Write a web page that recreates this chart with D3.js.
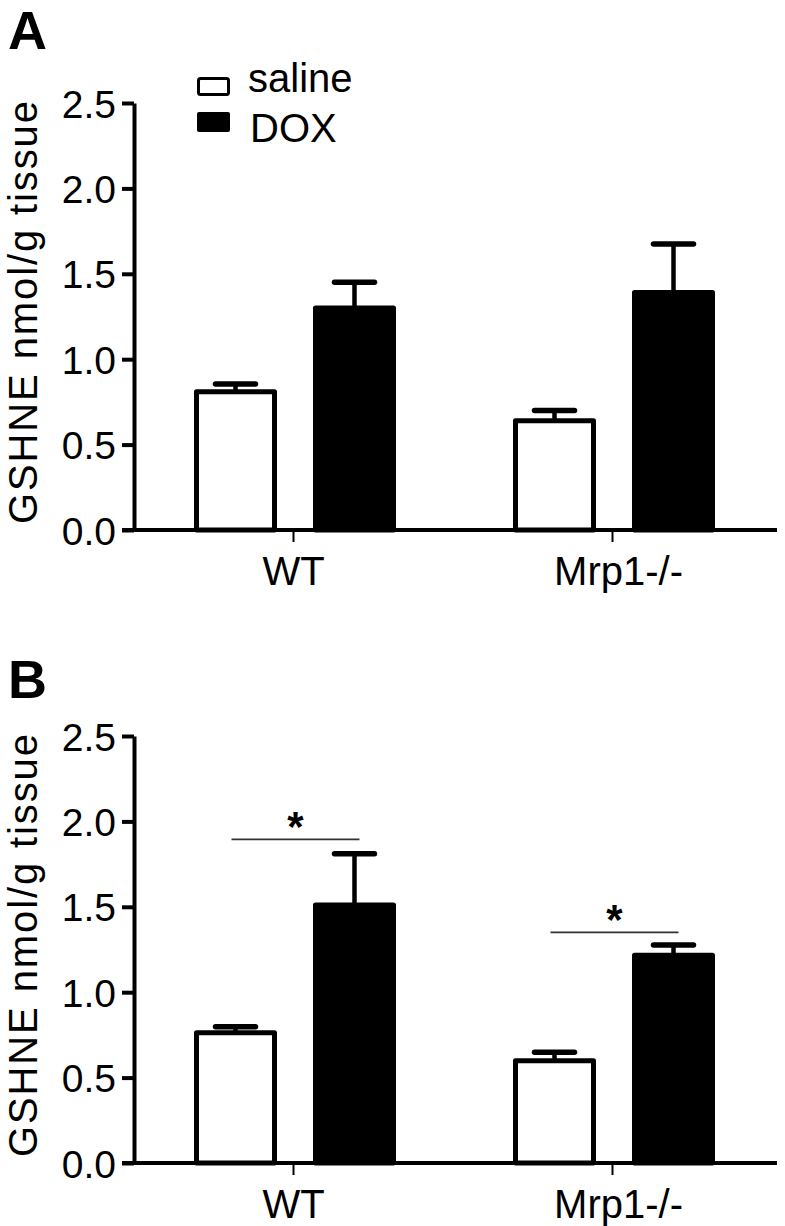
<!DOCTYPE html>
<html>
<head>
<meta charset="utf-8">
<script src="https://cdn.jsdelivr.net/npm/d3@7"></script>
<style>
  html, body { margin: 0; padding: 0; background: #fff; }
  svg { display: block; }
  text { font-family: "Liberation Sans", Arial, Helvetica, sans-serif; fill: #000; }
</style>
</head>
<body>
<svg id="chart" width="785" height="1226"></svg>
<script>
// ---------- data ----------
const categories = ["WT", "Mrp1-/-"];
const series = ["saline", "DOX"];
const yTicks = [0, 0.5, 1.0, 1.5, 2.0, 2.5];

// Panel A
const salineA = [0.81, 0.64];
const salineErrA = [0.045, 0.06];
const doxA = [1.30, 1.39];
const doxErrA = [0.15, 0.285];

// Panel B
const salineB = [0.763, 0.598];
const salineErrB = [0.035, 0.05];
const doxB = [1.51, 1.216];
const doxErrB = [0.30, 0.06];
const sigLevelB = [1.895, 1.35];
const sigLabelB = ["*", "*"];

const panelLabels = ["A", "B"];
const yTitle = "GSHNE nmol/g tissue";

// ---------- drawing ----------
const svg = d3.select("#chart");
const FONT = 40;

function drawPanel(cfg) {
  const g = svg.append("g");
  const y = d3.scaleLinear().domain([0, 2.5]).range([cfg.y0, cfg.yTop]);
  const x = d3.scaleBand().domain(categories).range([134, 772]).padding(0);
  const xs = d3.scaleBand().domain(series).range([0, 202]).paddingInner(0.3025).paddingOuter(0);
  const groupOff = x.bandwidth() / 2 + 1.5 - 101;

  // panel letter
  g.append("text").attr("x", 8).attr("y", cfg.letterY)
    .attr("font-size", 54).attr("font-weight", "bold").text(cfg.letter);

  // y title
  g.append("text")
    .attr("transform", `translate(37,${(cfg.y0 + cfg.yTop) / 2 - 4}) rotate(-90)`)
    .attr("text-anchor", "middle")
    .attr("font-size", 40)
    .attr("textLength", 423).attr("lengthAdjust", "spacing")
    .text(yTitle);

  // bars
  const sw = 5;
  const rows = [];
  categories.forEach((c, i) => {
    rows.push({cat: c, s: "saline", v: cfg.saline[i], e: cfg.salineErr[i]});
    rows.push({cat: c, s: "DOX", v: cfg.dox[i], e: cfg.doxErr[i]});
  });
  const bx = d => x(d.cat) + groupOff + xs(d.s);
  const bc = d => bx(d) + xs.bandwidth() / 2;

  // error bars
  g.selectAll(".err").data(rows).enter().append("line")
    .attr("x1", bc).attr("x2", bc)
    .attr("y1", d => y(d.v)).attr("y2", d => y(d.v + d.e))
    .attr("stroke", "#000").attr("stroke-width", 4.5);
  g.selectAll(".cap").data(rows).enter().append("line")
    .attr("x1", d => bc(d) - 20).attr("x2", d => bc(d) + 20)
    .attr("y1", d => y(d.v + d.e)).attr("y2", d => y(d.v + d.e))
    .attr("stroke", "#000").attr("stroke-width", 5.5).attr("stroke-linecap", "round");

  g.selectAll(".bar").data(rows).enter().append("rect")
    .attr("x", d => bx(d) + sw / 2)
    .attr("width", xs.bandwidth() - sw)
    .attr("y", d => y(d.v))
    .attr("height", d => y(0) - y(d.v))
    .attr("fill", d => d.s === "DOX" ? "#000" : "#fff")
    .attr("stroke", "#000").attr("stroke-width", sw)
    .attr("stroke-linejoin", "round");

  // y axis
  const ya = g.append("g").attr("transform", "translate(134,0)")
    .call(d3.axisLeft(y).tickValues(yTicks).tickFormat(d3.format(".1f"))
      .tickSize(12).tickSizeOuter(0).tickPadding(6));
  ya.select(".domain").attr("stroke-width", 4);
  ya.selectAll(".tick line").attr("stroke-width", 4);
  ya.selectAll(".tick text").attr("font-size", 39)
    .attr("font-family", "Liberation Sans, Arial, sans-serif").attr("dy", "0.36em");

  // x axis
  g.append("line").attr("x1", 122).attr("x2", 777)
    .attr("y1", y(0)).attr("y2", y(0))
    .attr("stroke", "#000").attr("stroke-width", 4);
  const xa = g.append("g").attr("transform", `translate(0,${y(0)})`)
    .call(d3.axisBottom(x).tickSize(12).tickPadding(15));
  xa.select(".domain").remove();
  xa.selectAll(".tick line").attr("stroke-width", 2);
  xa.selectAll(".tick text").attr("font-size", FONT)
    .attr("font-family", "Liberation Sans, Arial, sans-serif")
    .attr("dx", (d, i) => i === 1 ? 6 : 0);

  // significance
  if (cfg.sig) {
    categories.forEach((c, i) => {
      const x1 = x(c) + groupOff + xs("saline") + xs.bandwidth() / 2 - 4;
      const x2 = x(c) + groupOff + xs("DOX") + xs.bandwidth() / 2 + 5;
      const yy = y(cfg.sig[i]);
      g.append("line").attr("x1", x1).attr("x2", x2).attr("y1", yy).attr("y2", yy)
        .attr("stroke", "#333").attr("stroke-width", 1.6);
      g.append("text").attr("x", (x1 + x2) / 2).attr("y", yy + 2)
        .attr("text-anchor", "middle").attr("font-size", 42).attr("font-weight", "bold")
        .text(cfg.sigLabel[i]);
    });
  }
}

drawPanel({letter: panelLabels[0], letterY: 49, y0: 530, yTop: 103,
  saline: salineA, salineErr: salineErrA, dox: doxA, doxErr: doxErrA});
drawPanel({letter: panelLabels[1], letterY: 698, y0: 1163, yTop: 736,
  saline: salineB, salineErr: salineErrB, dox: doxB, doxErr: doxErrB,
  sig: sigLevelB, sigLabel: sigLabelB});

// legend (panel A)
const leg = svg.append("g");
leg.append("rect").attr("x", 198.5).attr("y", 78.5).attr("width", 30).attr("height", 16)
  .attr("rx", 2).attr("fill", "#fff").attr("stroke", "#000").attr("stroke-width", 3);
leg.append("rect").attr("x", 197).attr("y", 112).attr("width", 33).attr("height", 20)
  .attr("rx", 2).attr("fill", "#000");
leg.append("text").attr("x", 248).attr("y", 92).attr("font-size", FONT).text(series[0]);
leg.append("text").attr("x", 250).attr("y", 142).attr("font-size", FONT).text(series[1]);
</script>
</body>
</html>
